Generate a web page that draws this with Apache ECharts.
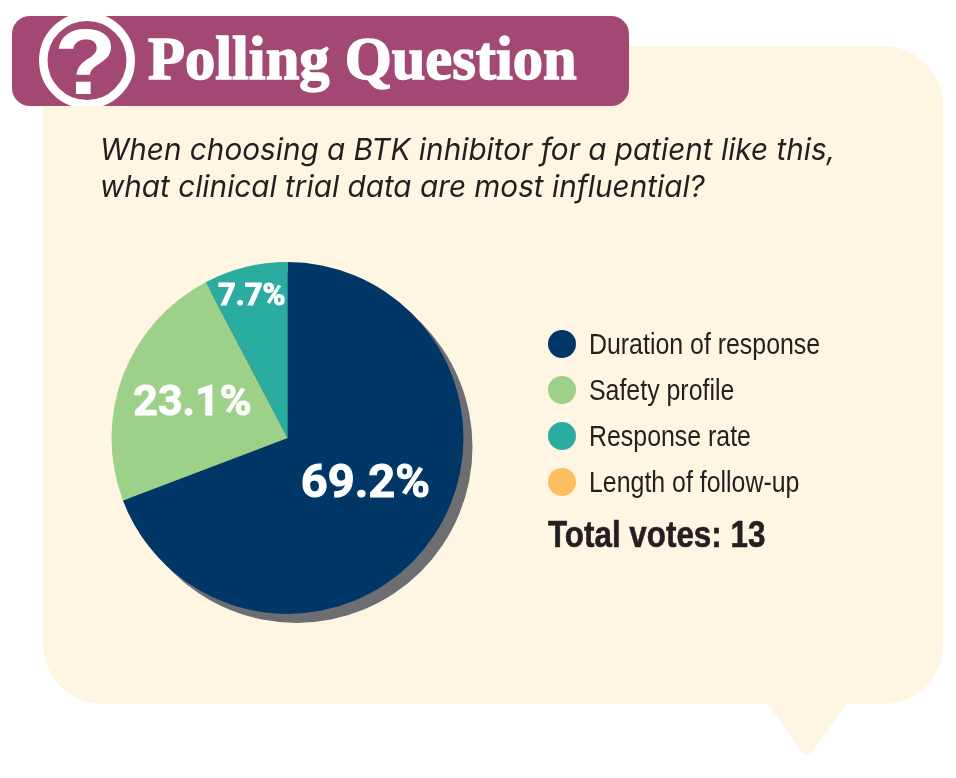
<!DOCTYPE html>
<html>
<head>
<meta charset="utf-8">
<style>
  html, body { margin: 0; padding: 0; background: #fff; }
  #chart { width: 956px; height: 778px; }
</style>
<script src="https://cdn.jsdelivr.net/npm/echarts@6/dist/echarts.min.js"></script>
</head>
<body>
<div id="chart"></div>
<script>
const categories = ['Duration of response', 'Safety profile', 'Response rate', 'Length of follow-up']
const votes = [9, 3, 1, 0]
const colors = ['#003767', '#9dd18a', '#2aaca0', '#fdbf5e']
const labelOffsets = [[3, -4], [-10, -1], [-14, -52], [0, 0]]
const labelSizes = [47, 43, 31, 0]
const titleText = 'Polling Question'
const questionLines = [
  'When choosing a BTK inhibitor for a patient like this,',
  'what clinical trial data are most influential?'
]
const totalText = 'Total votes: 13'

const chart = echarts.init(document.getElementById('chart'))

const centre = [287.5, 438]
const radius = 176
const cream = '#fff5e3'

// narrow sans is not installed, so the legend is squeezed text next to round swatches
const legendItems = []
categories.forEach((name, i) => {
  const y = 344 + i * 46
  legendItems.push({
    type: 'circle', z: 3,
    shape: { cx: 562, cy: y, r: 14 },
    style: { fill: colors[i] }
  })
  legendItems.push({
    type: 'text', z: 3, x: 589, y: y + 1.5, scaleX: 0.83,
    style: {
      text: name, fill: '#231f20',
      font: '30px "Liberation Sans"',
      align: 'left', verticalAlign: 'middle'
    }
  })
})

chart.setOption({
  animation: false,
  backgroundColor: '#ffffff',
  color: colors,
  graphic: [
    // speech bubble
    {
      type: 'rect', z: 0,
      shape: { x: 43, y: 46, width: 900, height: 658, r: 60 },
      style: { fill: cream }
    },
    {
      type: 'polygon', z: 0,
      shape: { points: [[767, 703], [799, 748], [803, 753], [807, 754], [811, 753], [815, 748], [847, 703]] },
      style: { fill: cream }
    },
    // header bar
    {
      type: 'rect', z: 1,
      shape: { x: 12, y: 16, width: 617, height: 90, r: 18 },
      style: { fill: '#a34873' }
    },
    {
      type: 'circle', z: 2,
      shape: { cx: 87, cy: 60.5, r: 43.7 },
      style: { fill: 'none', stroke: '#ffffff', lineWidth: 8.5 }
    },
    // ring is cut off by the bar's bottom edge
    {
      type: 'rect', z: 2,
      shape: { x: 60, y: 106, width: 56, height: 6 },
      style: { fill: cream }
    },
    {
      type: 'text', z: 3, x: 85.5, y: 69, scaleX: 1.12,
      style: {
        text: '?', fill: '#ffffff',
        font: 'bold 92px "Liberation Sans"',
        align: 'center', verticalAlign: 'middle'
      }
    },
    {
      type: 'text', z: 3, x: 148, y: 63,
      style: {
        text: titleText, fill: '#ffffff', stroke: '#ffffff', lineWidth: 1.5,
        font: 'bold 60.5px "Liberation Serif"',
        align: 'left', verticalAlign: 'middle'
      }
    },
    {
      type: 'text', z: 3, x: 100, y: 151, scaleX: 0.99,
      style: {
        text: questionLines[0], fill: '#231f20',
        font: 'italic 30px "Inter"',
        align: 'left', verticalAlign: 'middle'
      }
    },
    {
      type: 'text', z: 3, x: 100, y: 188, scaleX: 0.99,
      style: {
        text: questionLines[1], fill: '#231f20',
        font: 'italic 30px "Inter"',
        align: 'left', verticalAlign: 'middle'
      }
    },
    {
      type: 'text', z: 3, x: 548, y: 537, scaleX: 0.848,
      style: {
        text: totalText, fill: '#231f20', stroke: '#231f20', lineWidth: 0.6,
        font: 'bold 37px "Liberation Sans"',
        align: 'left', verticalAlign: 'middle'
      }
    }
  ].concat(legendItems),
  series: [
    // grey drop shadow behind the pie
    {
      type: 'pie',
      silent: true,
      z: 1,
      center: [centre[0] + 9, centre[1] + 9],
      radius: radius,
      label: { show: false },
      labelLine: { show: false },
      itemStyle: { color: '#6d6e71' },
      data: [{ name: 'shadow', value: votes.reduce((a, b) => a + b, 0) }]
    },
    {
      type: 'pie',
      z: 2,
      center: centre,
      radius: radius,
      startAngle: 90,
      clockwise: true,
      percentPrecision: 1,
      avoidLabelOverlap: false,
      labelLine: { show: false },
      data: categories.map((name, i) => ({
        name,
        value: votes[i],
        label: {
          show: votes[i] > 0,
          position: 'inside',
          offset: labelOffsets[i],
          formatter: '{d}%',
          color: '#ffffff',
          fontFamily: 'Roboto',
          fontWeight: 'bold',
          fontSize: labelSizes[i],
          textBorderColor: '#ffffff',
          textBorderWidth: 1
        }
      }))
    }
  ]
})
</script>
</body>
</html>
